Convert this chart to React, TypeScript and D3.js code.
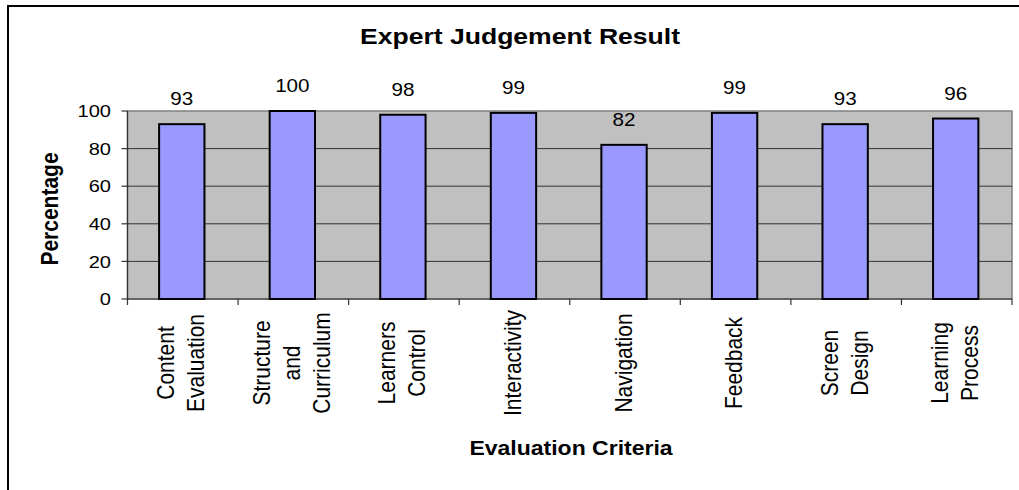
import React from "react";
import * as d3 from "d3";

const categories: string[] = [
  "Content\nEvaluation",
  "Structure\nand\nCurriculum",
  "Learners\nControl",
  "Interactivity",
  "Navigation",
  "Feedback",
  "Screen\nDesign",
  "Learning\nProcess",
];
const values: number[] = [93, 100, 98, 99, 82, 99, 93, 96];
const yTicks: number[] = [0, 20, 40, 60, 80, 100];
const title = "Expert Judgement Result";
const yTitle = "Percentage";
const xTitle = "Evaluation Criteria";

const W = 1019;
const H = 490;
const SX = 1.18; // horizontal text stretch seen in the reference
const FONT = "'Liberation Sans', Arial, sans-serif";

export default function App() {
  const plotL = 127.5;
  const plotR = 1012;
  const plotT = 111;
  const plotB = 299;

  const x = d3.scaleBand<string>().domain(categories).range([plotL, plotR]).padding(0);
  const y = d3.scaleLinear().domain([0, 100]).range([plotB, plotT]);
  const bw = x.bandwidth();
  const barW = bw * 0.41;

  return (
    <svg
      width={W}
      height={H}
      style={{ position: "absolute", left: 0, top: 0, display: "block", background: "#fff" }}
      fontFamily={FONT}
    >
      {/* outer chart border */}
      <rect x={8} y={6} width={1200} height={700} fill="none" stroke="#000" strokeWidth={2} />

      {/* title */}
      <text
        transform={`translate(520,44) scale(${SX},1)`}
        textAnchor="middle"
        fontSize={22.5}
        fontWeight="bold"
      >
        {title}
      </text>

      {/* plot area */}
      <rect x={plotL} y={plotT} width={plotR - plotL} height={plotB - plotT} fill="#C0C0C0" stroke="#808080" strokeWidth={1.5} />

      {/* gridlines */}
      {yTicks.filter((t) => t > 0 && t < 100).map((t) => (
        <line key={"g" + t} x1={plotL} x2={plotR} y1={y(t)} y2={y(t)} stroke="#333" strokeWidth={1} />
      ))}

      {/* y axis */}
      <line x1={plotL} x2={plotL} y1={plotT} y2={plotB} stroke="#333" strokeWidth={1.2} />
      {yTicks.map((t) => (
        <g key={"yt" + t}>
          <line x1={plotL - 6} x2={plotL} y1={y(t)} y2={y(t)} stroke="#333" strokeWidth={1.2} />
          <text
            transform={`translate(111,${y(t)}) scale(${SX},1)`}
            textAnchor="end"
            dy="0.36em"
            fontSize={17}
          >
            {t}
          </text>
        </g>
      ))}

      {/* x axis */}
      <line x1={plotL} x2={plotR} y1={plotB} y2={plotB} stroke="#333" strokeWidth={1.2} />
      {d3.range(categories.length + 1).map((i) => {
        const xx = plotL + i * bw;
        return <line key={"xt" + i} x1={xx} x2={xx} y1={plotB} y2={plotB + 6} stroke="#333" strokeWidth={1.2} />;
      })}

      {/* bars */}
      {categories.map((c, i) => {
        const cx = (x(c) as number) + bw / 2 - 1;
        return (
          <g key={"b" + i}>
            <rect
              x={cx - barW / 2}
              y={y(values[i])}
              width={barW}
              height={plotB - y(values[i])}
              fill="#9999FF"
              stroke="#000"
              strokeWidth={2}
            />
            <text
              transform={`translate(${cx},${y(values[i]) - 19}) scale(${SX},1)`}
              textAnchor="middle"
              fontSize={17.5}
            >
              {values[i]}
            </text>
          </g>
        );
      })}

      {/* category labels */}
      {categories.map((c, i) => {
        const lines = c.split("\n");
        const cx = (x(c) as number) + bw / 2;
        const n = lines.length;
        return (
          <g key={"cl" + i}>
            {lines.map((ln, j) => {
              const bx = cx + (j - (n - 1) / 2) * 30 + 6.5;
              return (
                <text
                  key={j}
                  transform={`translate(${bx},363) scale(${SX},1) rotate(-90)`}
                  textAnchor="middle"
                  fontSize={21}
                >
                  {ln}
                </text>
              );
            })}
          </g>
        );
      })}

      {/* axis titles */}
      <text
        transform={`translate(57.5,209) scale(${SX},1) rotate(-90)`}
        textAnchor="middle"
        fontSize={21}
        fontWeight="bold"
      >
        {yTitle}
      </text>
      <text
        transform={`translate(571,455) scale(${SX},1)`}
        textAnchor="middle"
        fontSize={19.5}
        fontWeight="bold"
      >
        {xTitle}
      </text>
    </svg>
  );
}
